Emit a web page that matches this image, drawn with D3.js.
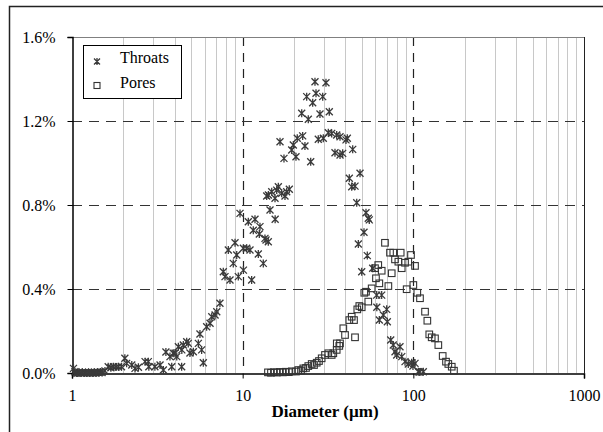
<!DOCTYPE html>
<html>
<head>
<meta charset="utf-8">
<script src="https://cdn.jsdelivr.net/npm/d3@7/dist/d3.min.js"></script>
<style>
  body { margin: 0; background: #fff; }
</style>
</head>
<body>
<div id="chart"></div>
<script>
// ---------- data (diameter in µm, frequency in %) ----------
const throats = [
  [1.02,0.022],[1.04,0.006],[1.06,0.0],[1.08,0],[1.10,0.004],[1.13,0],[1.15,0.003],[1.18,0],[1.20,0.002],[1.22,0],[1.25,0.003],[1.27,0],
  [1.30,0.002],[1.33,0],[1.35,0.003],[1.38,0],[1.41,0.004],[1.44,0.002],[1.47,0.005],[1.50,0.002],[1.56,0.01],[1.63,0.03],[1.69,0.025],
  [1.75,0.03],[1.81,0.028],[1.87,0.03],[1.95,0.03],[2.04,0.07],[2.09,0.046],[2.24,0.038],[2.34,0.022],[2.45,0.027],[2.68,0.054],
  [2.80,0.054],[2.82,0.03],[3.06,0.03],[3.28,0.038],[3.43,0.014],[3.55,0.10],[3.75,0.078],[3.84,0.03],[3.92,0.094],[4.01,0.094],
  [4.11,0.078],[4.20,0.125],[4.39,0.03],[4.40,0.11],[4.49,0.133],[4.70,0.149],[4.80,0.141],[4.91,0.095],[5.14,0.101],[5.50,0.141],
  [5.62,0.186],[5.75,0.11],[5.88,0.049],[6.15,0.22],[6.44,0.237],[6.59,0.268],[6.89,0.276],[7.05,0.292],[7.36,0.332],[7.70,0.482],
  [7.88,0.459],[8.24,0.586],[8.43,0.443],[8.81,0.522],[9.02,0.62],[9.23,0.562],[9.43,0.459],[9.65,0.76],[10.09,0.594],[10.10,0.49],
  [10.56,0.594],[10.79,0.72],[11.04,0.586],[11.29,0.443],[11.54,0.68],[11.81,0.732],[12.35,0.567],[12.52,0.662],[12.63,0.697],
  [13.21,0.522],[13.51,0.641],[13.70,0.633],[13.83,0.843],[14.13,0.625],[14.15,0.848],[14.46,0.776],[14.80,0.863],[15.47,0.832],
  [15.50,0.732],[15.83,0.871],[16.18,0.887],[16.55,1.101],[16.93,0.856],[17.46,1.022],[17.70,0.843],[18.11,0.863],[18.76,0.875],
  [19.38,1.062],[19.81,1.086],[20.53,1.03],[20.89,1.118],[22.18,1.237],[22.47,1.129],[23.17,1.081],[23.72,1.316],[24.24,1.208],
  [25.04,1.006],[25.72,1.287],[26.53,1.387],[26.90,1.332],[27.74,1.113],[28.38,1.233],[29.44,1.316],[29.68,1.118],[30.77,1.382],
  [31.75,1.144],[32.18,1.244],[33.24,1.141],[34.75,1.049],[35.56,1.133],[37.18,1.125],[37.20,1.038],[38.55,1.046],[40.31,1.11],
  [41.03,1.118],[42.16,0.927],[43.55,0.887],[44.13,1.065],[45.53,0.89],[46.59,0.811],[47.61,0.614],[48.72,0.951],[49.84,0.482],
  [51.40,0.67],[52.80,0.763],[53.74,0.559],[54.45,0.737],[55.2,0.729],[57.8,0.499],[61.0,0.371],[61.1,0.313],[63.2,0.252],
  [65.25,0.371],[66.7,0.276],[69.8,0.303],[70.4,0.244],[73.7,0.157],[76.3,0.133],[78.1,0.101],[79.9,0.086],[83.5,0.125],
  [85.5,0.078],[89.4,0.054],[93.4,0.043],[97.8,0.049],[99.5,0.033],[102.3,0.046],[107,0.006],[109,0.005],[114.4,0.006]
];
const pores = [
  [14.07,0.003],[14.65,0.001],[15.25,0.004],[15.87,0.002],[16.53,0.005],[17.21,0.003],[17.91,0.006],[18.64,0.004],[19.41,0.008],
  [20.53,0.007],[21.18,0.014],[21.97,0.012],[22.65,0.022],[23.50,0.024],[24.24,0.033],[25.38,0.043],[26.18,0.038],[27.16,0.049],
  [28.0,0.057],[29.04,0.07],[30.37,0.086],[31.75,0.094],[33.24,0.086],[33.97,0.094],[35.56,0.11],[35.6,0.141],[36.83,0.129],
  [37.18,0.141],[38.88,0.213],[39.79,0.181],[42.16,0.252],[43.55,0.268],[44.91,0.252],[45.53,0.17],[46.96,0.303],[48.25,0.319],
  [49.84,0.313],[51.6,0.382],[52.8,0.387],[54.45,0.34],[57.0,0.403],[59.6,0.499],[60.4,0.451],[62.3,0.514],[63.2,0.427],
  [65.25,0.487],[68.2,0.62],[71.4,0.414],[73.0,0.573],[74.7,0.475],[76.3,0.573],[78.1,0.541],[81.7,0.53],[84.3,0.573],
  [85.5,0.499],[89.4,0.525],[91.4,0.399],[93.4,0.53],[96.9,0.562],[99.99,0.419],[102.3,0.51],[105.5,0.382],[109.4,0.356],
  [117.1,0.292],[120.8,0.249],[124.0,0.184],[128.1,0.17],[133.9,0.165],[140.1,0.133],[148.6,0.081],[155.4,0.054],[160.3,0.043],
  [167.9,0.03],[173.0,0.011]
];
const xTicks = [1, 10, 100, 1000];
const yTicks = [0, 0.4, 0.8, 1.2, 1.6];
const seriesNames = ['Throats', 'Pores'];

const FONT = "'Liberation Serif', 'Times New Roman'";

// ---------- layout ----------
const W = 603, H = 432;
const svg = d3.select('#chart').append('svg').attr('width', W).attr('height', H);

// outer frame (right/bottom edges run off the picture)
svg.append('rect')
  .attr('x', 9.5).attr('y', 6.5).attr('width', 620).attr('height', 440)
  .attr('fill', '#fff').attr('stroke', '#222').attr('stroke-width', 1.5);

const x = d3.scaleLog().domain([1, 1000]).range([72, 584]);
const y = d3.scaleLinear().domain([0, 1.6]).range([373, 37]);

// minor vertical gridlines (2..9 of every decade)
const minor = [];
[1, 10, 100].forEach(dec => { for (let k = 2; k <= 9; k++) minor.push(dec * k); });
svg.append('g').selectAll('line').data(minor).join('line')
  .attr('x1', d => Math.round(x(d)) + 0.5).attr('x2', d => Math.round(x(d)) + 0.5)
  .attr('y1', y(1.6)).attr('y2', y(0))
  .attr('stroke', '#c8c8c8').attr('stroke-width', 1);

// major dashed gridlines
svg.append('g').selectAll('line').data([10, 100]).join('line')
  .attr('x1', d => Math.round(x(d)) + 0.5).attr('x2', d => Math.round(x(d)) + 0.5)
  .attr('y1', y(1.6)).attr('y2', y(0))
  .attr('stroke', '#222').attr('stroke-width', 1.2).attr('stroke-dasharray', '9,7');
svg.append('g').selectAll('line').data([0.4, 0.8, 1.2]).join('line')
  .attr('x1', x(1)).attr('x2', x(1000))
  .attr('y1', d => Math.round(y(d)) + 0.5).attr('y2', d => Math.round(y(d)) + 0.5)
  .attr('stroke', '#333').attr('stroke-width', 1.2).attr('stroke-dasharray', '10,7');

// plot border top / right
svg.append('line').attr('x1', x(1)).attr('x2', x(1000)).attr('y1', y(1.6) + 0.5).attr('y2', y(1.6) + 0.5)
  .attr('stroke', '#808080');
svg.append('line').attr('x1', x(1000) + 0.5).attr('x2', x(1000) + 0.5).attr('y1', y(1.6)).attr('y2', y(0))
  .attr('stroke', '#222');

// axes
const yAxis = svg.append('g').attr('transform', `translate(${x(1) + 0.5},0)`)
  .call(d3.axisLeft(y).tickValues(yTicks).tickSize(5).tickPadding(12)
    .tickFormat(d => d.toFixed(1) + '%'));
const xAxis = svg.append('g').attr('transform', `translate(0,${y(0) + 0.5})`)
  .call(d3.axisBottom(x).tickValues(xTicks).tickSize(5).tickPadding(12)
    .tickFormat(d3.format('d')));
[yAxis, xAxis].forEach(a => {
  a.attr('font-family', null);
  a.select('.domain').attr('stroke', '#000').attr('stroke-width', 1.5);
  a.selectAll('.tick line').attr('stroke', '#000');
  a.selectAll('.tick text').attr('fill', '#000')
    .style('font-family', FONT).style('font-size', '16px');
});
xAxis.selectAll('.tick text').attr('y', 27).attr('dy', 0);

// axis title
svg.append('text')
  .attr('x', 325).attr('y', 417)
  .attr('text-anchor', 'middle')
  .style('font-family', FONT).style('font-size', '17px').style('font-weight', 'bold')
  .text('Diameter (µm)');

// markers
const star = (g, s) => {
  g.append('path')
    .attr('d', `M${-s},${-s}L${s},${s}M${-s},${s}L${s},${-s}M0,${-s - 0.5}L0,${s + 0.5}`)
    .attr('stroke', '#3a3a3a').attr('stroke-width', 1.3).attr('fill', 'none');
};
const square = (g, s) => {
  g.append('rect').attr('x', -s).attr('y', -s).attr('width', 2 * s).attr('height', 2 * s)
    .attr('fill', 'none').attr('stroke', '#333').attr('stroke-width', 1.1);
};

svg.append('g').selectAll('g').data(throats).join('g')
  .attr('transform', d => `translate(${x(d[0])},${y(d[1])})`)
  .each(function () { star(d3.select(this), 3.5); });

svg.append('g').selectAll('g').data(pores).join('g')
  .attr('transform', d => `translate(${x(d[0])},${y(d[1])})`)
  .each(function () { square(d3.select(this), 3.3); });

// legend
const lg = svg.append('g');
lg.append('rect').attr('x', 83.5).attr('y', 45.5).attr('width', 98).attr('height', 53)
  .attr('fill', '#fff').attr('stroke', '#000');
seriesNames.forEach((name, i) => {
  const row = lg.append('g').attr('transform', `translate(97,${61.5 + i * 24})`);
  if (i === 0) star(row, 3); else square(row, 3);
  lg.append('text').attr('x', 120).attr('y', 63 + i * 24.5)
    .style('font-family', FONT).style('font-size', '16px').text(name);
});
</script>
</body>
</html>
